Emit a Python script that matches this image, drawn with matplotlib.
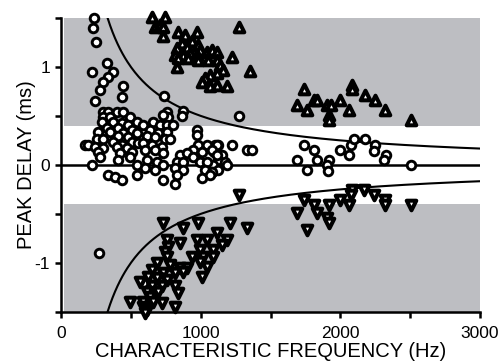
import numpy as np
import matplotlib
matplotlib.use("Agg")
import matplotlib.pyplot as plt

plt.rcParams['font.family'] = ['Liberation Sans', 'DejaVu Sans']

# circles: (CF in Hz, peak delay in ms)
circ = [
    (236, 1.50), (228, 1.40), (250, 1.25), (328, 1.04), (221, 0.95), (371, 0.95),
    (336, 0.90), (300, 0.85), (443, 0.80), (278, 0.76), (436, 0.69), (243, 0.65),
    (736, 0.70), (871, 0.55), (864, 0.50), (1278, 0.50), (171, 0.20), (193, 0.20),
    (221, 0.00), (1335, 0.15),
    (1364, 0.15), (1742, 0.20), (1814, 0.15), (1692, 0.05), (1835, 0.05), (1764, -0.05),
    (1921, 0.05), (1906, 0.00), (1914, -0.06), (2000, 0.15), (2064, 0.10), (2078, 0.20),
    (2100, 0.26), (2178, 0.26), (2250, 0.20), (2242, 0.14), (2328, 0.10), (2314, 0.05),
    (2506, 0.00), (1221, 0.20),
    (1100, 0.20), (1121, 0.20), (1093, 0.13), (1150, 0.10), (1121, 0.05), (1171, 0.03),
    (1192, 0.00), (1085, 0.00), (1078, -0.07), (1121, -0.05),
    (300, 0.54), (336, 0.54), (400, 0.54), (443, 0.54), (300, 0.49), (350, 0.49),
    (493, 0.49), (371, 0.44), (436, 0.43), (293, 0.44), (478, 0.41), (543, 0.44),
    (328, 0.38), (407, 0.38), (507, 0.36), (264, 0.34), (350, 0.34), (443, 0.33),
    (407, 0.29), (478, 0.28), (543, 0.33), (257, 0.26), (300, 0.26), (371, 0.23),
    (507, 0.23), (436, 0.20), (550, 0.22), (243, 0.18), (300, 0.17), (400, 0.18),
    (471, 0.17), (264, 0.13), (421, 0.12), (507, 0.13), (278, 0.08), (407, 0.05),
    (493, 0.08), (543, 0.00), (336, -0.10), (386, -0.12), (436, -0.15), (543, -0.10),
    (757, 0.54), (764, 0.49), (728, 0.51), (657, 0.44), (707, 0.41), (757, 0.41),
    (800, 0.41), (586, 0.41), (636, 0.36), (693, 0.33), (757, 0.34), (614, 0.29),
    (671, 0.28), (743, 0.26), (778, 0.26), (971, 0.36), (971, 0.31), (586, 0.22),
    (650, 0.20), (721, 0.18), (600, 0.15), (671, 0.15), (728, 0.12), (978, 0.20),
    (1043, 0.20), (1114, 0.20), (943, 0.15), (1007, 0.13), (1078, 0.15), (850, 0.10),
    (900, 0.12), (943, 0.08), (1114, 0.10), (614, 0.05), (686, 0.03), (728, 0.00),
    (828, 0.03), (871, 0.03), (993, 0.03), (1043, 0.03), (600, -0.03), (671, -0.05),
    (814, -0.03), (871, -0.05), (1028, -0.05), (1078, -0.07), (728, -0.15), (828, -0.10),
    (814, -0.20), (1007, -0.13), (1064, -0.10),
    (271, -0.90), (586, -1.20),
]

tri_up = [
    (650, 1.51), (743, 1.51), (671, 1.41), (707, 1.43), (728, 1.41), (728, 1.31),
    (836, 1.36), (886, 1.33), (971, 1.36), (936, 1.26), (864, 1.24), (828, 1.19),
    (900, 1.20), (978, 1.22), (993, 1.17), (814, 1.12), (871, 1.12), (921, 1.14),
    (971, 1.12), (1043, 1.15), (1078, 1.17), (1114, 1.15), (836, 1.09), (907, 1.09),
    (978, 1.07), (1050, 1.07), (1114, 1.07), (828, 1.00), (1221, 1.10), (1278, 1.41),
    (1135, 1.02), (1157, 0.97), (1114, 0.94), (1064, 0.92), (1028, 0.89), (1007, 0.85),
    (1064, 0.80), (1114, 0.82), (1192, 0.80), (1350, 0.96),
    (1742, 0.77), (1692, 0.61), (1764, 0.56), (1814, 0.66), (1835, 0.66), (1906, 0.61),
    (1935, 0.61), (1921, 0.51), (1921, 0.46), (2000, 0.66), (2064, 0.56), (2085, 0.82),
    (2085, 0.77), (2178, 0.71), (2250, 0.66), (2321, 0.56), (2506, 0.46),
]

tri_down = [
    (1278, -0.31), (728, -0.59), (871, -0.64), (978, -0.59), (1207, -0.59), (1335, -0.64),
    (757, -0.77), (850, -0.80), (764, -0.84), (743, -0.89), (971, -0.77), (1043, -0.77),
    (1114, -0.69), (1192, -0.77), (1150, -0.82), (993, -0.87), (1085, -0.87), (936, -0.94),
    (1014, -0.94), (1085, -0.94), (993, -0.99), (1043, -1.04), (1007, -1.14), (757, -0.94),
    (686, -1.00), (778, -1.02), (850, -1.05), (900, -1.05), (650, -1.07), (728, -1.10),
    (814, -1.10), (871, -1.09), (621, -1.14), (686, -1.15), (757, -1.17), (564, -1.19),
    (650, -1.24), (721, -1.24), (814, -1.24), (614, -1.30), (693, -1.30), (836, -1.31),
    (636, -1.35), (493, -1.40), (586, -1.40), (657, -1.40), (721, -1.41), (586, -1.45),
    (614, -1.48), (814, -1.45), (600, -1.51),
    (1742, -0.36), (1814, -0.41), (1692, -0.49), (1835, -0.49), (1764, -0.66), (1921, -0.41),
    (1906, -0.54), (1921, -0.59), (2000, -0.36), (2064, -0.41), (2085, -0.26), (2078, -0.31),
    (2171, -0.26), (2242, -0.31), (2321, -0.36), (2321, -0.41), (2506, -0.41),
]

# shaded ranges (ms) and half-period curve constant (ms*Hz)
band_x = [25, 3000]
band_lo, band_hi = 0.4, 1.5
curve_k = 500.0

fig = plt.figure(figsize=(5, 3.64), dpi=100)
ax = fig.add_axes([0.122, 0.143, 0.838, 0.808])

gray = '#bdbec2'
ax.fill_between(band_x, band_lo, band_hi, color=gray, lw=0, zorder=0)
ax.fill_between(band_x, -band_hi, -band_lo, color=gray, lw=0, zorder=0)
ax.plot([0, 3000], [0, 0], color='black', lw=1.8, zorder=1)

f = np.linspace(curve_k / 1.5, 3000, 300)
ax.plot(f, curve_k / f, color='black', lw=1.5, zorder=2)
ax.plot(f, -curve_k / f, color='black', lw=1.5, zorder=2)

c = np.array(circ)
u = np.array(tri_up)
d = np.array(tri_down)
ax.scatter(c[:, 0], c[:, 1], s=38, marker='o', facecolor='white', edgecolor='black',
           linewidth=2.1, zorder=3, clip_on=False)
ax.scatter(u[:, 0], u[:, 1], s=48, marker='^', facecolor='white', edgecolor='black',
           linewidth=2.9, zorder=3, clip_on=False)
ax.scatter(d[:, 0], d[:, 1], s=48, marker='v', facecolor='white', edgecolor='black',
           linewidth=2.9, zorder=3, clip_on=False)

ax.set_xlim(0, 3000)
ax.set_ylim(-1.5, 1.5)
ax.set_xticks(np.arange(0, 3001, 500))
ax.set_xticklabels(['0', '', '1000', '', '2000', '', '3000'])
ax.set_yticks([-1.5, -1, -0.5, 0, 0.5, 1, 1.5])
ax.set_yticklabels(['', '-1', '', '0', '', '1', ''])
ax.tick_params(direction='out', length=4, width=1.8, labelsize=12.5)
ax.tick_params(axis='x', pad=6)
ax.tick_params(axis='y', pad=4)

for s in ['top', 'right']:
    ax.spines[s].set_visible(False)
for s in ['left', 'bottom']:
    ax.spines[s].set_linewidth(1.8)

ax.set_xlabel('CHARACTERISTIC FREQUENCY (Hz)', fontsize=14.5, labelpad=1)
ax.set_ylabel('PEAK DELAY (ms)', fontsize=14.5, labelpad=-1)

fig.savefig('out.png', dpi=100)
